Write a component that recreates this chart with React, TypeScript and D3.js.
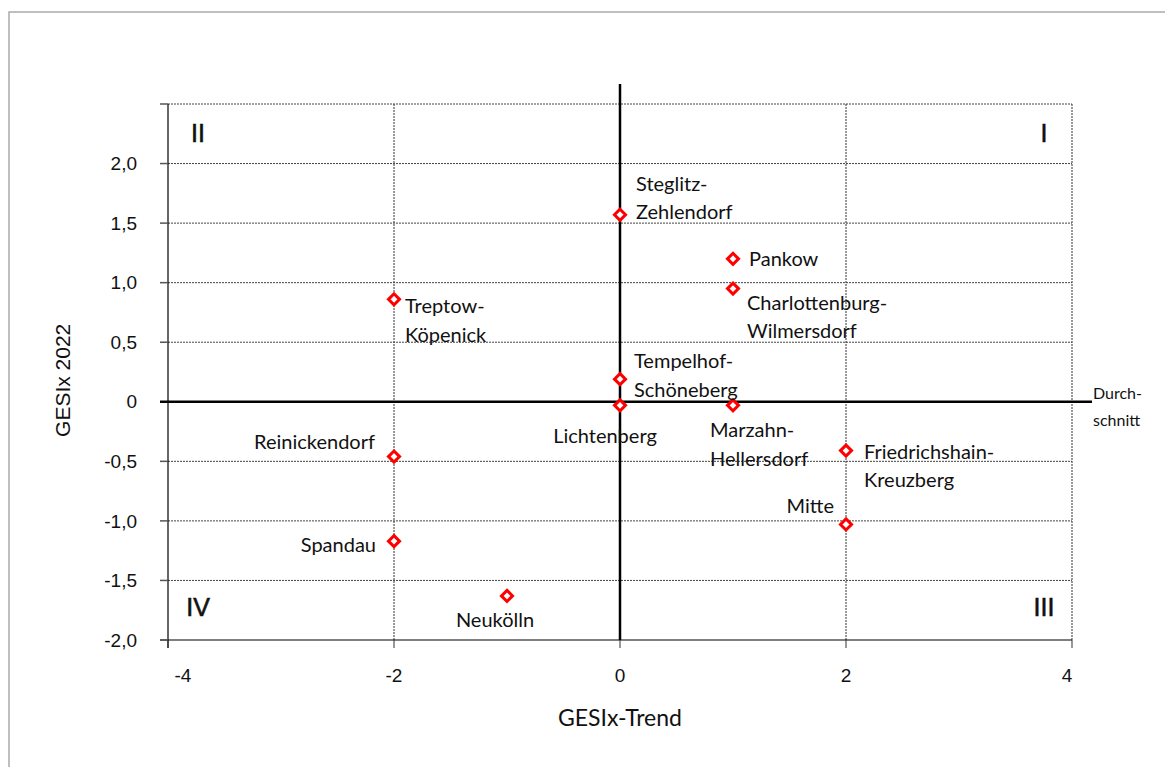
import React from "react";
import * as d3 from "d3";

const districts = [
  "Steglitz-Zehlendorf",
  "Pankow",
  "Charlottenburg-Wilmersdorf",
  "Treptow-Köpenick",
  "Tempelhof-Schöneberg",
  "Lichtenberg",
  "Marzahn-Hellersdorf",
  "Reinickendorf",
  "Friedrichshain-Kreuzberg",
  "Mitte",
  "Spandau",
  "Neukölln",
];
const trendValues = [0, 1, 1, -2, 0, 0, 1, -2, 2, 2, -2, -1];
const gesixValues = [1.57, 1.2, 0.95, 0.86, 0.19, -0.03, -0.03, -0.46, -0.41, -1.03, -1.17, -1.63];
const labelLines: string[][] = [
  ["Steglitz-", "Zehlendorf"],
  ["Pankow"],
  ["Charlottenburg-", "Wilmersdorf"],
  ["Treptow-", "Köpenick"],
  ["Tempelhof-", "Schöneberg"],
  ["Lichtenberg"],
  ["Marzahn-", "Hellersdorf"],
  ["Reinickendorf"],
  ["Friedrichshain-", "Kreuzberg"],
  ["Mitte"],
  ["Spandau"],
  ["Neukölln"],
];
const xTicks = [-4, -2, 0, 2, 4];
const yTicks = [-2, -1.5, -1, -0.5, 0, 0.5, 1, 1.5, 2];
const yGrid = [-1.5, -1, -0.5, 0.5, 1, 1.5, 2, 2.5];
const quadrants = [
  { label: "I", x: 4, y: 2.5 },
  { label: "II", x: -4, y: 2.5 },
  { label: "III", x: 4, y: -2 },
  { label: "IV", x: -4, y: -2 },
];

// label layout: dx offset from marker, dy of first line centre, anchor
const labelLayout: Record<string, { dx: number; dy: number; anchor: string }> = {
  "Steglitz-Zehlendorf": { dx: 16, dy: -31, anchor: "start" },
  Pankow: { dx: 16, dy: 0, anchor: "start" },
  "Charlottenburg-Wilmersdorf": { dx: 14, dy: 14, anchor: "start" },
  "Treptow-Köpenick": { dx: 11, dy: 7, anchor: "start" },
  "Tempelhof-Schöneberg": { dx: 14, dy: -18, anchor: "start" },
  Lichtenberg: { dx: -15, dy: 31, anchor: "middle" },
  "Marzahn-Hellersdorf": { dx: -23, dy: 25, anchor: "start" },
  Reinickendorf: { dx: -19, dy: -15, anchor: "end" },
  "Friedrichshain-Kreuzberg": { dx: 18, dy: 1, anchor: "start" },
  Mitte: { dx: -12, dy: -18, anchor: "end" },
  Spandau: { dx: -18, dy: 4, anchor: "end" },
  Neukölln: { dx: -12, dy: 24, anchor: "middle" },
};

const W = 1165;
const H = 767;
const x = d3.scaleLinear().domain([-4, 4]).range([168, 1072]);
const y = d3.scaleLinear().domain([-2, 2.5]).range([640, 104]);

const LABEL_FONT = "Lato, 'Open Sans', sans-serif";
const AXIS_FONT = "'Liberation Sans', Arial, sans-serif";

const fmtY = (v: number) =>
  v === 0 ? "0" : d3.format(".1f")(v).replace(".", ",").replace("\u2212", "-");

const xLabelShift = (v: number) => (v === -4 ? 15 : v === 4 ? -5 : 0);

const diamond = d3.symbol().type(d3.symbolDiamond2).size(78);

export default function App() {
  const points = districts.map((name, i) => ({
    name,
    tx: trendValues[i],
    gy: gesixValues[i],
    lines: labelLines[i],
  }));
  return (
    <svg
      width={W}
      height={H}
      style={{ position: "absolute", left: 0, top: 0, background: "#fff" }}
    >
      <rect x={9} y={12} width={W + 10} height={H + 10} fill="#fff" stroke="#aaa" strokeWidth={1.5} />

      {/* horizontal gridlines */}
      {yGrid.map((v) => (
        <line
          key={"hg" + v}
          x1={x(-4)}
          x2={x(4)}
          y1={y(v)}
          y2={y(v)}
          stroke="#444"
          strokeWidth={1}
          strokeDasharray="2,1"
        />
      ))}
      {/* vertical gridlines */}
      {xTicks
        .filter((v) => v !== -4)
        .map((v) => (
          <line
            key={"vg" + v}
            x1={x(v)}
            x2={x(v)}
            y1={y(2.5)}
            y2={y(-2)}
            stroke="#333"
            strokeWidth={1}
            strokeDasharray="2,1"
          />
        ))}

      {/* axes */}
      <line x1={x(-4)} x2={x(-4)} y1={y(2.5)} y2={y(-2) + 8} stroke="#000" strokeWidth={1.2} />
      <line x1={x(-4) - 8} x2={x(4)} y1={y(-2)} y2={y(-2)} stroke="#000" strokeWidth={1.2} />
      {[...yTicks, 2.5].map((v) => (
        <line
          key={"yt" + v}
          x1={x(-4) - 8}
          x2={x(-4)}
          y1={y(v)}
          y2={y(v)}
          stroke="#555"
          strokeWidth={1.5}
        />
      ))}
      {xTicks.map((v) => (
        <line key={"xt" + v} x1={x(v)} x2={x(v)} y1={y(-2)} y2={y(-2) + 8} stroke="#333" strokeWidth={1} />
      ))}

      {/* tick labels */}
      {yTicks.map((v) => (
        <text
          key={"yl" + v}
          x={137}
          y={y(v)}
          dy="0.35em"
          textAnchor="end"
          fontFamily={AXIS_FONT}
          fontSize={19}
          fill="#111"
        >
          {fmtY(v)}
        </text>
      ))}
      {xTicks.map((v) => (
        <text
          key={"xl" + v}
          x={x(v) + xLabelShift(v)}
          y={675}
          dy="0.35em"
          textAnchor="middle"
          fontFamily={AXIS_FONT}
          fontSize={19}
          fill="#111"
        >
          {String(v)}
        </text>
      ))}

      {/* average lines */}
      <line x1={x(0)} x2={x(0)} y1={y(2.5) - 20} y2={y(-2)} stroke="#000" strokeWidth={2.5} />
      <line x1={x(-4) - 8} x2={x(4) + 20} y1={y(0)} y2={y(0)} stroke="#000" strokeWidth={2.5} />
      <text x={x(4) + 21} y={y(0) - 8} dy="0.35em" fontFamily={LABEL_FONT} fontSize={16} fill="#111">
        Durch-
      </text>
      <text x={x(4) + 21} y={y(0) + 19} dy="0.35em" fontFamily={LABEL_FONT} fontSize={16} fill="#111">
        schnitt
      </text>

      {/* quadrant labels */}
      {quadrants.map((q) => (
        <text
          key={q.label}
          x={q.x < 0 ? x(q.x) + 30 : x(q.x) - 28}
          y={q.y > 0 ? y(q.y) + 29 : y(q.y) - 33}
          dy="0.35em"
          textAnchor="middle"
          fontFamily={AXIS_FONT}
          fontSize={25}
          fill="#111"
          stroke="#111"
          strokeWidth={0.6}
        >
          {q.label}
        </text>
      ))}

      {/* points */}
      {points.map((p) => (
        <path
          key={"pt" + p.name}
          d={diamond() as string}
          transform={`translate(${x(p.tx)},${y(p.gy)})`}
          fill="#fff"
          stroke="#f00"
          strokeWidth={3}
        />
      ))}

      {/* point labels */}
      {points.map((p) => {
        const lay = labelLayout[p.name];
        return (
          <text
            key={"lb" + p.name}
            fontFamily={LABEL_FONT}
            fontSize={20}
            fill="#111"
            textAnchor={lay.anchor}
          >
            {p.lines.map((ln, j) => (
              <tspan key={j} x={x(p.tx) + lay.dx} y={y(p.gy) + lay.dy + j * 28.5} dy="0.35em">
                {ln}
              </tspan>
            ))}
          </text>
        );
      })}

      {/* axis titles */}
      <text
        x={620}
        y={718}
        dy="0.35em"
        textAnchor="middle"
        fontFamily={LABEL_FONT}
        fontSize={23}
        fill="#111"
      >
        GESIx-Trend
      </text>
      <text
        transform={`translate(63,${y(0.18)}) rotate(-90)`}
        dy="0.35em"
        textAnchor="middle"
        fontFamily={AXIS_FONT}
        fontSize={21}
        fill="#111"
      >
        GESIx 2022
      </text>
    </svg>
  );
}
